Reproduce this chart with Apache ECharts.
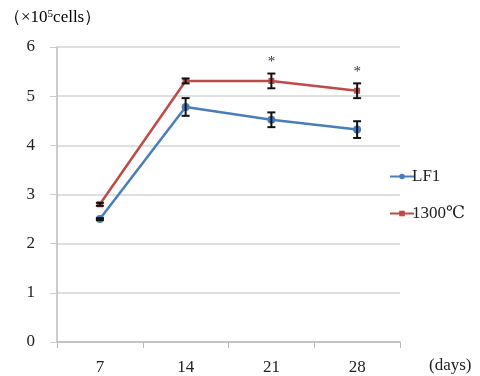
<!DOCTYPE html>
<html><head><meta charset="utf-8">
<script src="https://cdn.jsdelivr.net/npm/echarts@6/dist/echarts.min.js"></script>
<style>html,body{margin:0;padding:0;background:#fff}#c{width:480px;height:376px}</style>
</head><body><div id="c"></div>
<script>
var days = ['7', '14', '21', '28'];
var lf1 = [2.5, 4.78, 4.52, 4.32];
var lf1Err = [0.02, 0.18, 0.15, 0.17];
var t1300 = [2.8, 5.31, 5.31, 5.11];
var t1300Err = [0.03, 0.05, 0.15, 0.15];
var signif = [false, false, true, true];
var yTicks = [0, 1, 2, 3, 4, 5, 6];

var chart = echarts.init(document.getElementById('c'));
var font = '"Liberation Serif", "DejaVu Serif", serif';

function errData(vals, errs, sig) {
  return vals.map(function (v, i) { return [i, v - errs[i], v + errs[i], sig ? (sig[i] ? 1 : 0) : 0]; });
}
function errRender(params, api) {
  var x = api.value(0);
  var lo = api.coord([x, api.value(1)]);
  var hi = api.coord([x, api.value(2)]);
  var cw = 4;
  var children = [
    {type: 'line', shape: {x1: lo[0], y1: lo[1], x2: hi[0], y2: hi[1]}, style: {stroke: '#111', lineWidth: 2}},
    {type: 'line', shape: {x1: lo[0] - cw, y1: lo[1], x2: lo[0] + cw, y2: lo[1]}, style: {stroke: '#111', lineWidth: 2}},
    {type: 'line', shape: {x1: hi[0] - cw, y1: hi[1], x2: hi[0] + cw, y2: hi[1]}, style: {stroke: '#111', lineWidth: 2}}
  ];
  if (api.value(3) === 1) {
    children.push({type: 'text', x: hi[0], y: hi[1] - 11, style: {text: '*', fontSize: 15, fontFamily: font, fill: '#333', align: 'center', verticalAlign: 'middle'}});
  }
  return {type: 'group', children: children};
}

chart.setOption({
  animation: false,
  grid: {left: 57, right: 80, top: 47, bottom: 33},
  legend: {
    orient: 'vertical', left: 384, top: 163, itemGap: 20, itemWidth: 24, itemHeight: 7,
    textStyle: {fontFamily: font, fontSize: 17, color: '#222', padding: [0, 0, 0, -7]},
    data: ['LF1', '1300℃']
  },
  xAxis: {
    type: 'category', data: days, boundaryGap: true,
    axisLine: {lineStyle: {color: '#bbb', width: 1.5}},
    axisTick: {show: true, length: 6, lineStyle: {color: '#bbb'}},
    axisLabel: {fontFamily: font, fontSize: 17, color: '#222', margin: 17}
  },
  yAxis: {
    type: 'value', min: 0, max: 6, interval: 1,
    axisLine: {show: true, lineStyle: {color: '#bbb', width: 1.5}},
    axisTick: {show: true, length: 7, lineStyle: {color: '#ccc'}},
    splitLine: {lineStyle: {color: '#d4d4d4', width: 1.5}},
    axisLabel: {fontFamily: font, fontSize: 17, color: '#222', margin: 22,
      formatter: function (v) { return yTicks.indexOf(v) >= 0 ? String(v) : ''; }}
  },
  graphic: [
    {type: 'text', left: 4, top: 9, style: {
      text: '{a|（×10}{s|5}{a|cells）}',
      rich: {a: {fontFamily: font, fontSize: 17, color: '#222'}, s: {fontFamily: font, fontSize: 11, color: '#222', verticalAlign: 'top', padding: [0, 0, 7, 0]}}
    }},
    {type: 'text', left: 429, top: 357, style: {text: '(days)', fontFamily: font, fontSize: 17, fill: '#222'}}
  ],
  series: [
    {name: 'LF1', type: 'line', data: lf1, symbol: 'circle', symbolSize: 8,
      lineStyle: {color: '#4a7ebb', width: 2.5}, itemStyle: {color: '#4a7ebb'}, z: 3},
    {name: '1300℃', type: 'line', data: t1300, symbol: 'rect', symbolSize: 6,
      lineStyle: {color: '#be4b48', width: 2.5}, itemStyle: {color: '#be4b48'}, z: 3},
    {type: 'custom', renderItem: errRender, data: errData(lf1, lf1Err), z: 5, silent: true},
    {type: 'custom', renderItem: errRender, data: errData(t1300, t1300Err, signif), z: 5, silent: true}
  ]
});
</script></body></html>
